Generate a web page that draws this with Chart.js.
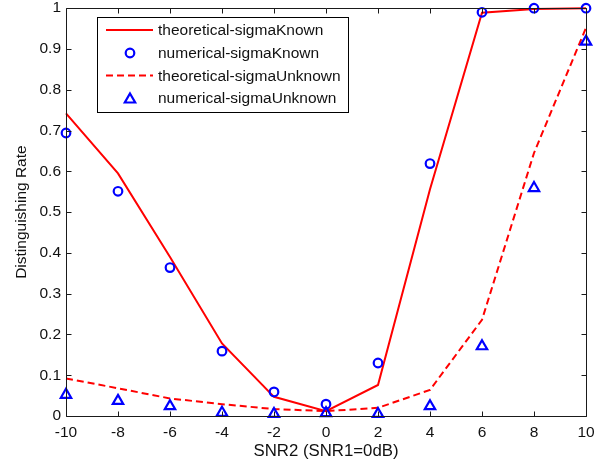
<!DOCTYPE html>
<html>
<head>
<meta charset="utf-8">
<script src="https://cdn.jsdelivr.net/npm/chart.js@4/dist/chart.umd.min.js"></script>
<style>
html,body{margin:0;padding:0;background:#fff;}
#wrap{width:611px;height:464px;}
</style>
</head>
<body>
<div id="wrap"><canvas id="c" width="611" height="464"></canvas></div>
<script>
const snr = [-10, -8, -6, -4, -2, 0, 2, 4, 6, 8, 10];
const theoKnown = [0.742, 0.595, 0.39, 0.178, 0.047, 0.012, 0.076, 0.556, 0.989, 0.998, 1.0];
const numKnown = [0.694, 0.551, 0.364, 0.159, 0.059, 0.029, 0.130, 0.619, 0.990, 1.0, 1.0];
const theoUnknown = [0.092, 0.068, 0.043, 0.029, 0.017, 0.012, 0.020, 0.064, 0.236, 0.645, 0.952];
const numUnknown = [0.052, 0.037, 0.024, 0.008, 0.005, 0.007, 0.005, 0.024, 0.171, 0.559, 0.918];
const seriesNames = ['theoretical-sigmaKnown', 'numerical-sigmaKnown', 'theoretical-sigmaUnknown', 'numerical-sigmaUnknown'];
const xTicks = [-10, -8, -6, -4, -2, 0, 2, 4, 6, 8, 10];
const yTicks = [0, 0.1, 0.2, 0.3, 0.4, 0.5, 0.6, 0.7, 0.8, 0.9, 1];
const xTitle = 'SNR2 (SNR1=0dB)';
const yTitle = 'Distinguishing Rate';

const FONT = "'Liberation Sans', Arial, Helvetica, sans-serif";
const pts = arr => snr.map((x, i) => ({x: x, y: arr[i]}));

const datasets = [
  {label: seriesNames[0], data: pts(theoKnown), borderColor: '#ff0000', borderWidth: 2, pointRadius: 0, showLine: true, fill: false, order: 2, clip: false, tension: 0},
  {label: seriesNames[1], data: pts(numKnown), borderColor: '#0000ff', backgroundColor: 'rgba(0,0,0,0)', pointBorderWidth: 2.2, pointRadius: 4.3, pointStyle: 'circle', showLine: false, order: 0, clip: false},
  {label: seriesNames[2], data: pts(theoUnknown), borderColor: '#ff0000', borderWidth: 2, borderDash: [7, 4], pointRadius: 0, showLine: true, fill: false, order: 3, clip: false, tension: 0},
  {label: seriesNames[3], data: pts(numUnknown), borderColor: '#0000ff', backgroundColor: 'rgba(0,0,0,0)', pointBorderWidth: 2.2, pointRadius: 6, pointStyle: 'triangle', showLine: false, order: 1, clip: false}
];

const frame = {
  id: 'frame',
  afterDraw(chart) {
    const ctx = chart.ctx, a = chart.chartArea;
    const xs = chart.scales.x, ys = chart.scales.y;
    ctx.save();
    ctx.strokeStyle = '#1a1a1a';
    ctx.lineWidth = 1;
    const L = Math.round(a.left) + 0.5, R = Math.round(a.right) + 0.5, T = Math.round(a.top) + 0.5, B = Math.round(a.bottom) + 0.5;
    ctx.beginPath();
    ctx.rect(L, T, R - L, B - T);
    ctx.stroke();
    const tl = 5;
    ctx.beginPath();
    xTicks.forEach(v => {
      const px = Math.round(xs.getPixelForValue(v)) + 0.5;
      ctx.moveTo(px, B); ctx.lineTo(px, B - tl);
      ctx.moveTo(px, T); ctx.lineTo(px, T + tl);
    });
    yTicks.forEach(v => {
      const py = Math.round(ys.getPixelForValue(v)) + 0.5;
      ctx.moveTo(L, py); ctx.lineTo(L + tl, py);
      ctx.moveTo(R, py); ctx.lineTo(R - tl, py);
    });
    ctx.stroke();
    ctx.restore();
  }
};

const boxLegend = {
  id: 'boxLegend',
  afterDraw(chart) {
    const ctx = chart.ctx;
    const left = 97, top = 17, right = 348, bottom = 112;
    const rows = [30, 53, 75.5, 98];
    ctx.save();
    ctx.fillStyle = '#ffffff';
    ctx.fillRect(left, top, right - left, bottom - top);
    ctx.strokeStyle = '#000000';
    ctx.lineWidth = 1;
    ctx.strokeRect(left + 0.5, top + 0.5, right - left, bottom - top);
    chart.data.datasets.forEach((ds, i) => {
      const y = rows[i];
      if (ds.showLine) {
        ctx.strokeStyle = ds.borderColor;
        ctx.lineWidth = ds.borderWidth;
        ctx.setLineDash(ds.borderDash || []);
        ctx.beginPath();
        ctx.moveTo(106, y); ctx.lineTo(153, y);
        ctx.stroke();
        ctx.setLineDash([]);
      } else {
        ctx.strokeStyle = ds.borderColor;
        ctx.fillStyle = 'rgba(0,0,0,0)';
        ctx.lineWidth = ds.pointBorderWidth;
        Chart.helpers.drawPoint(ctx, {pointStyle: ds.pointStyle, radius: ds.pointRadius, borderWidth: ds.pointBorderWidth, rotation: 0}, 130, y + (ds.pointStyle === 'triangle' ? 1.5 : 0));
      }
      ctx.fillStyle = '#111';
      ctx.font = '15.5px ' + FONT;
      ctx.textBaseline = 'middle';
      ctx.textAlign = 'left';
      ctx.fillText(ds.label, 158, y + 1);
    });
    ctx.restore();
  }
};

new Chart(document.getElementById('c'), {
  type: 'scatter',
  data: {datasets: datasets},
  options: {
    responsive: false,
    animation: false,
    devicePixelRatio: 1,
    layout: {padding: {left: 0, right: 25, top: 7, bottom: 0}},
    plugins: {legend: {display: false}, tooltip: {enabled: false}},
    scales: {
      x: {
        type: 'linear', min: -10, max: 10,
        afterBuildTicks: s => { s.ticks = xTicks.map(v => ({value: v})); },
        afterFit: s => { s.height = 48; s.paddingLeft = 0; s.paddingRight = 0; s.paddingTop = 0; s.paddingBottom = 0; },
        grid: {display: false, drawTicks: false},
        border: {display: false},
        ticks: {color: '#111', font: {family: FONT, size: 15.5}, padding: 7, maxRotation: 0, autoSkip: false},
        title: {display: true, text: xTitle, color: '#111', font: {family: FONT, size: 16.8}, padding: {top: 0, bottom: 3}}
      },
      y: {
        type: 'linear', min: 0, max: 1,
        afterBuildTicks: s => { s.ticks = yTicks.map(v => ({value: v})); },
        afterFit: s => { s.width = 66; s.paddingLeft = 0; s.paddingRight = 0; s.paddingTop = 0; s.paddingBottom = 0; },
        grid: {display: false, drawTicks: false},
        border: {display: false},
        ticks: {color: '#111', font: {family: FONT, size: 15.5}, padding: 5, autoSkip: false, callback: v => String(v)},
        title: {display: true, text: yTitle, color: '#111', font: {family: FONT, size: 15.5}, padding: {top: 12, bottom: 0}}
      }
    }
  },
  plugins: [frame, boxLegend]
});
</script>
</body>
</html>
